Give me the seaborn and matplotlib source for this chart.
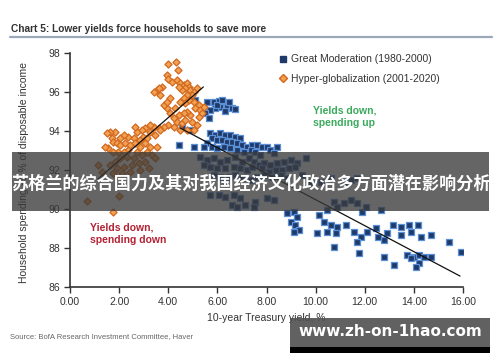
import matplotlib
matplotlib.use("Agg")
import matplotlib.pyplot as plt
import seaborn as sns
import pandas as pd
from matplotlib.patches import Rectangle
from matplotlib.lines import Line2D

# ---------------- data ----------------
hg_x = [4.01, 4.33, 4.38, 3.95, 4.01, 4.15, 4.35, 4.49, 4.63, 4.76, 4.83, 4.69, 4.56, 4.42, 4.90,
        5.03, 4.97, 5.17, 4.76, 4.63, 4.83, 4.69, 4.49, 5.03, 5.24, 5.10, 5.31, 5.44, 5.37, 5.24,
        4.90, 4.76, 4.63, 4.42, 4.22, 4.08, 3.95, 3.81, 3.95, 4.08, 3.67, 3.54, 3.40, 3.74, 3.61,
        4.29, 4.35, 4.56, 4.69, 4.97, 5.17, 5.03, 4.76, 4.49, 4.22, 4.01, 3.81, 3.61, 3.40, 3.27,
        3.27, 3.47, 3.67, 3.06, 2.93, 2.72, 2.65, 2.99, 3.13, 2.86, 2.59, 2.38, 2.18, 2.04, 1.84,
        1.63, 1.50, 1.70, 1.77, 1.90, 2.04, 2.24, 2.45, 2.65, 2.86, 3.06, 3.27, 3.54, 2.38, 2.18,
        1.97, 1.77, 1.56, 1.43, 2.72, 2.93, 3.13, 3.33, 3.47, 2.59, 2.31, 2.04, 1.84, 1.63, 1.90,
        2.18, 2.52, 2.79, 3.06, 3.20, 2.86, 2.45, 2.11, 1.77, 1.16, 1.29, 0.68, 1.77, 2.00]
hg_y = [97.42, 97.52, 97.13, 96.87, 96.67, 96.53, 96.62, 96.44, 96.36, 96.44, 96.27, 96.19, 96.10, 96.27, 96.10,
        96.02, 95.85, 96.19, 95.85, 95.68, 95.59, 95.42, 95.50, 95.50, 95.33, 95.16, 95.08, 95.25, 94.91, 94.74,
        94.82, 94.99, 94.91, 94.82, 94.65, 94.91, 95.16, 95.33, 95.50, 95.68, 95.85, 96.10, 96.02, 96.27, 96.19,
        95.16, 94.48, 94.39, 94.56, 94.48, 94.31, 94.05, 94.05, 94.05, 94.22, 94.31, 94.22, 94.14, 94.22, 94.31,
        93.97, 93.79, 94.05, 94.14, 94.05, 93.97, 94.22, 93.71, 93.62, 93.54, 93.62, 93.71, 93.79, 93.62, 93.97,
        93.97, 93.88, 93.62, 93.45, 93.37, 93.28, 93.37, 93.28, 93.37, 93.20, 93.37, 93.20, 93.20, 93.03, 92.94,
        92.94, 92.94, 93.11, 93.20, 92.94, 92.77, 92.94, 92.77, 92.60, 92.60, 92.68, 92.60, 92.43, 92.26, 92.09,
        92.17, 92.26, 92.34, 92.43, 92.09, 92.00, 91.91, 91.83, 91.83, 92.26, 91.91, 90.41, 89.86, 90.67]

gm_x = [5.10, 5.58, 5.85, 6.05, 6.26, 6.39, 6.60, 6.12, 5.92, 5.71, 5.51, 5.64, 5.98, 6.19, 6.46, 6.73, 6.32,
        5.71, 5.92, 6.12, 6.32, 6.53, 6.73, 6.94, 5.78, 5.98, 6.19, 6.39, 6.60, 6.80, 7.01, 7.21, 7.41, 7.62,
        7.82, 8.03, 8.43, 5.58, 5.44, 5.78, 5.98, 6.26, 6.53, 6.80, 7.07, 7.35, 7.55, 7.75, 8.16, 8.30, 5.03,
        4.42, 4.56, 4.90,
        5.30, 5.58, 5.85, 6.12, 6.39, 6.73, 7.01, 7.28, 7.48, 7.69, 7.89, 8.16, 8.43, 8.71, 8.98, 9.25, 9.59,
        5.44, 5.71, 5.98, 6.32, 6.67, 6.94, 7.21, 7.41, 7.82, 8.09, 8.37, 8.64, 8.91, 9.18, 5.85, 6.12, 6.46,
        6.73, 7.01, 7.35, 7.62, 7.89, 8.23, 8.57, 8.84, 9.45, 9.79, 10.20, 10.61, 11.15, 11.43, 11.70, 5.71,
        6.05, 6.32, 6.67, 6.94, 7.14, 7.55, 8.03, 8.30, 7.48, 6.60, 6.80,
        8.84, 9.11, 9.25, 8.98, 9.18, 9.32, 9.11, 10.13, 10.47, 10.75, 10.88, 11.15, 11.43, 11.70, 11.90,
        12.04, 12.65, 10.34, 10.61, 10.88, 10.81, 10.47, 10.07, 11.22, 11.56, 11.84, 11.70, 12.11, 12.45,
        12.79, 12.52, 12.92, 13.13, 13.47, 13.81, 14.15, 13.88, 13.47, 14.28, 14.69, 15.44, 15.92, 10.75,
        11.77, 12.79, 13.20, 13.74, 14.01, 14.22, 14.42, 14.69, 14.22, 14.08, 13.88]
gm_y = [95.59, 95.51, 95.51, 95.54, 95.42, 95.25, 95.16, 95.25, 95.16, 95.08, 94.91, 94.65, 95.33, 95.59, 95.51, 95.13, 95.03,
        93.88, 93.80, 93.88, 93.80, 93.80, 93.71, 93.62, 93.62, 93.54, 93.54, 93.45, 93.45, 93.37, 93.28, 93.20, 93.28, 93.28,
        93.20, 93.20, 93.20, 93.37, 93.20, 93.20, 93.11, 93.20, 93.11, 93.03, 92.94, 93.03, 92.94, 92.77, 93.03, 92.86, 93.20,
        93.28, 94.22, 94.05,
        92.68, 92.51, 92.60, 92.43, 92.51, 92.68, 92.43, 92.60, 92.43, 92.26, 92.34, 92.26, 92.34, 92.43, 92.51, 92.34, 92.60,
        92.26, 92.17, 92.09, 92.09, 92.17, 92.09, 92.00, 92.17, 92.09, 91.92, 92.00, 92.00, 92.09, 92.17, 91.74, 91.66, 91.66,
        91.74, 91.57, 91.49, 91.66, 91.74, 91.66, 91.74, 91.57, 91.74, 91.40, 91.40, 91.57, 91.40, 91.49, 91.57, 90.72,
        90.72, 90.63, 90.72, 90.55, 90.21, 90.38, 90.55, 90.46, 90.12, 90.21, 90.12,
        89.78, 89.86, 89.61, 89.35, 89.18, 88.92, 88.84, 89.69, 89.95, 90.38, 90.12, 90.29, 90.46, 90.29, 89.86,
        90.12, 89.95, 89.35, 89.18, 89.10, 88.75, 88.84, 88.75, 89.18, 88.84, 88.58, 88.33, 88.84, 89.01,
        88.41, 88.58, 88.75, 89.18, 89.10, 89.18, 89.18, 88.84, 88.67, 88.58, 88.67, 88.33, 87.81, 88.07,
        87.73, 87.56, 87.13, 87.64, 87.56, 87.64, 87.56, 87.56, 87.21, 87.04, 87.47]

trend_hg_x = [1.14, 5.43]
trend_hg_y = [91.54, 96.26]
trend_gm_x = [4.49, 15.88]
trend_gm_y = [94.15, 86.56]

x_ticks = [0, 2, 4, 6, 8, 10, 12, 14, 16]
y_ticks = [86, 88, 90, 92, 94, 96, 98]

label_gm = "Great Moderation (1980-2000)"
label_hg = "Hyper-globalization (2001-2020)"

# ---------------- style ----------------
sns.set_theme(style="white")
plt.rcParams['font.family'] = ['Liberation Sans', 'DejaVu Sans']
plt.rcParams['axes.edgecolor'] = '#333333'

fig = plt.figure(figsize=(5.0, 3.62), dpi=100)
ax = fig.add_axes([70/500, 1-287/362, 393/500, 234/362])

df_gm = pd.DataFrame({'x': gm_x, 'y': gm_y})
df_hg = pd.DataFrame({'x': hg_x, 'y': hg_y})

sns.scatterplot(data=df_gm, x='x', y='y', ax=ax, marker='s', s=25,
                color='#1f3a68', edgecolor='#5b8fd6', linewidth=0.9, zorder=3)
sns.scatterplot(data=df_hg, x='x', y='y', ax=ax, marker='D', s=13,
                color='#f2a052', edgecolor='#d2691e', linewidth=0.9, zorder=4)

sns.lineplot(x=trend_hg_x, y=trend_hg_y, ax=ax, color='#111111', linewidth=0.9, zorder=5)
sns.lineplot(x=trend_gm_x, y=trend_gm_y, ax=ax, color='#111111', linewidth=0.9, zorder=5)

ax.set_xlim(0, 16)
ax.set_ylim(86, 98)
ax.set_xticks(x_ticks)
ax.set_xticklabels([f"{v:.2f}" for v in x_ticks])
ax.set_yticks(y_ticks)
ax.set_yticklabels([str(v) for v in y_ticks])
ax.tick_params(axis='both', direction='out', length=4, width=1, color='#333333',
               labelsize=7.5, labelcolor='#333333', pad=3,
               bottom=True, left=True)
for s in ['top', 'right']:
    ax.spines[s].set_visible(False)
for s in ['left', 'bottom']:
    ax.spines[s].set_linewidth(1.2)
    ax.spines[s].set_color('#333333')

ax.set_xlabel("10-year Treasury yield, %", fontsize=7.5, color='#333333')
ax.set_ylabel("Household spending as % of disposable income", fontsize=7.5, color='#333333')
ax.xaxis.set_label_coords(0.5, -0.11)
ax.yaxis.set_label_coords(-0.105, 0.49)

# legend
handles = [Line2D([], [], marker='s', linestyle='', markersize=4.5,
                  markerfacecolor='#1f3a68', markeredgecolor='#1f3a68'),
           Line2D([], [], marker='D', linestyle='', markersize=3.6,
                  markerfacecolor='#f2a052', markeredgecolor='#d2691e')]
ax.legend(handles, [label_gm, label_hg], loc='upper left',
          bbox_to_anchor=(275/500, 1-49/362), bbox_transform=fig.transFigure,
          frameon=False, fontsize=7.5, handlelength=0.6, handletextpad=0.45,
          labelspacing=0.95, borderpad=0, labelcolor='#333333')

# annotations
ax.text(9.9, 95.3, "Yields down,\nspending up", color='#3aaa5c', fontsize=7.5,
        fontweight='bold', ha='left', va='top', linespacing=1.25)
ax.text(0.82, 89.3, "Yields down,\nspending down", color='#b22234', fontsize=7.5,
        fontweight='bold', ha='left', va='top', linespacing=1.25)

# title & rule & source
fig.text(11/500, 1-29/362, "Chart 5: Lower yields force households to save more",
         fontsize=7.3, fontweight='bold', color='#333333', ha='left', va='center')
fig.add_artist(Line2D([10/500, 492/500], [1-37/362, 1-37/362], color='#9aa8b8', linewidth=1.6))
fig.text(10/500, 1-337/362, "Source: BofA Research Investment Committee, Haver",
         fontsize=5.5, color='#666666', ha='left', va='center')

# overlay banner
fig.add_artist(Rectangle((12/500, 1-211/362), 477/500, 59/362, transform=fig.transFigure,
                         facecolor='#3a3a3a', alpha=0.78, edgecolor='none', zorder=10))
fig.text(250.5/500, 1-184/362, "苏格兰的综合国力及其对我国经济文化政治多方面潜在影响分析",
         fontsize=12.3, fontweight='bold', color='white', ha='center', va='center', zorder=11,
         family=['Noto Sans CJK SC', 'DejaVu Sans'])

# watermark
fig.add_artist(Rectangle((290/500, 1-347/362), 200/500, 29/362, transform=fig.transFigure,
                         facecolor='#505050', alpha=0.9, edgecolor='none', zorder=10))
fig.add_artist(Rectangle((290/500, 1-353/362), 200/500, 6/362, transform=fig.transFigure,
                         facecolor='#000000', edgecolor='none', zorder=10))
fig.text(390/500, 1-332/362, "www.zh-on-1hao.com", fontsize=11, fontweight='bold',
         color='white', ha='center', va='center', zorder=11, family=['DejaVu Sans'])

fig.savefig("out.png", dpi=100, facecolor='white')
